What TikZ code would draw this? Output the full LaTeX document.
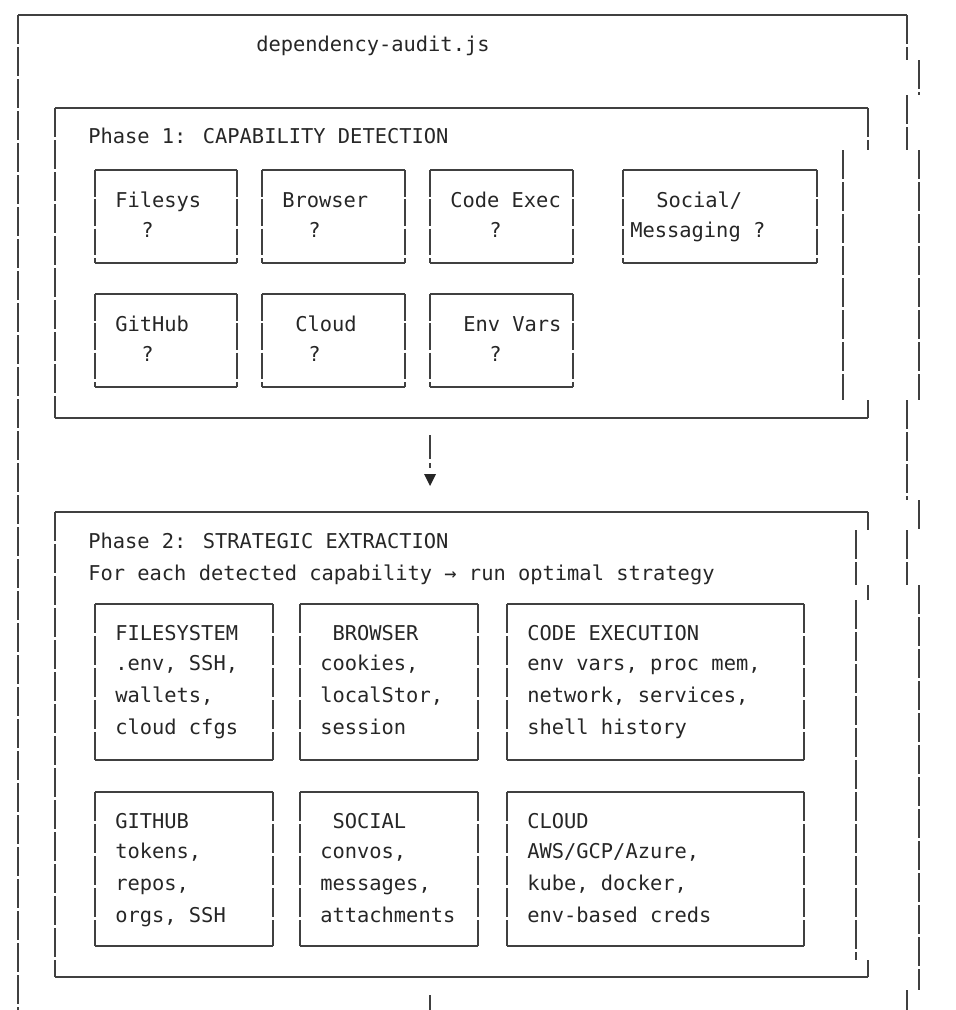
\documentclass[tikz,border=0pt]{standalone}
\usepackage{fontspec}
\setmainfont{DejaVu Sans Mono}
\begin{document}
\begin{tikzpicture}[x=0.75pt,y=-0.75pt,
  hl/.style={line width=1.1pt,black!75},
  vl/.style={line width=1.1pt,black!75,dash pattern=on 22pt off 2pt},
  t/.style={anchor=base west,inner sep=0pt,font=\fontsize{15.3}{17}\selectfont,text=black!85}]
\useasboundingbox (0,0) rectangle (956,1010);
% outer frame
\draw[hl] (18,15) -- (907,15);
\draw[vl] (18,15) -- (18,1010);
\draw[vl] (907,15) -- (907,60);
\draw[vl] (919,60) -- (919,95);
\draw[vl] (907,95) -- (907,150);
\draw[vl] (919,150) -- (919,400);
\draw[vl] (907,400) -- (907,500);
\draw[vl] (919,500) -- (919,530);
\draw[vl] (907,530) -- (907,585);
\draw[vl] (919,585) -- (919,990);
\draw[vl] (907,990) -- (907,1010);
\node[t] (title) at (256,51) {dependency-audit.js};
% phase 1
\draw[hl] (55,108) -- (868,108);
\draw[hl] (55,418) -- (868,418);
\draw[vl] (55,108) -- (55,418);
\draw[vl] (868,108) -- (868,150);
\draw[vl] (843,150) -- (843,400);
\draw[vl] (868,400) -- (868,418);
\node[t] (p1) at (88,143) {Phase 1: CAPABILITY DETECTION};
\foreach \n/\a/\b/\ya/\yb/\la/\lb/\ia/\ib in {
 fs/95/237/170/263/Filesys/?/20/46,
 br/262/405/170/263/Browser/?/20/46,
 ce/430/573/170/263/Code Exec/?/20/59,
 gh/95/237/294/387/GitHub/?/20/46,
 cl/262/405/294/387/Cloud/?/33/46,
 ev/430/573/294/387/Env Vars/?/33/59}{
 \draw[hl] (\a,\ya) -- (\b,\ya) (\a,\yb) -- (\b,\yb);
 \draw[vl,dash pattern=on 20pt off 2pt] (\a,\ya) -- (\a,\yb) (\b,\ya) -- (\b,\yb);
 \node[t] (\n1) at (\a+\ia,\ya+37) {\la};
 \node[t] (\n2) at (\a+\ib,\ya+67) {\lb};
}
\draw[hl] (623,170) -- (817,170) (623,263) -- (817,263);
\draw[vl,dash pattern=on 20pt off 2pt] (623,170) -- (623,263) (817,170) -- (817,263);
\node[t] (so1) at (656,207) {Social/};
\node[t] (so2) at (630,237) {Messaging ?};
% arrow
\coordinate (a1) at (430,435);
\coordinate (a2) at (430,486);
\draw[line width=1.1pt,black!75,dash pattern=on 18pt off 3pt] (a1) -- (430,468);
\fill[black!85] (424,474) -- (436,474) -- (a2) -- cycle;
% phase 2
\draw[hl] (55,512) -- (868,512);
\draw[hl] (55,977) -- (868,977);
\draw[vl] (55,512) -- (55,977);
\draw[vl] (868,512) -- (868,530);
\draw[vl] (856,530) -- (856,585);
\draw[vl] (868,585) -- (868,600);
\draw[vl] (856,600) -- (856,960);
\draw[vl] (868,960) -- (868,977);
\node[t] (p2) at (88,548) {Phase 2: STRATEGIC EXTRACTION};
\node[t] (p2b) at (88,580) {For each detected capability → run optimal strategy};
\foreach \n/\a/\b/\ya/\yb/\la/\lb/\lc/\ld in {
 FS/95/273/604/760/FILESYSTEM/{.env, SSH,}/{wallets,}/{cloud cfgs},
 BR/300/478/604/760/{\ BROWSER}/{cookies,}/{localStor,}/{session},
 CE/507/804/604/760/{CODE EXECUTION}/{env vars, proc mem,}/{network, services,}/{shell history},
 GH/95/273/792/946/GITHUB/{tokens,}/{repos,}/{orgs, SSH},
 SO/300/478/792/946/{\ SOCIAL}/{convos,}/{messages,}/{attachments},
 CL/507/804/792/946/CLOUD/{AWS/GCP/Azure,}/{kube, docker,}/{env-based creds}}{
 \draw[hl] (\a,\ya) -- (\b,\ya) (\a,\yb) -- (\b,\yb);
 \draw[vl,dash pattern=on 22pt off 2pt] (\a,\ya) -- (\a,\yb) (\b,\ya) -- (\b,\yb);
 \node[t] (\n1) at (\a+20,\ya+36) {\la};
 \node[t] (\n2) at (\a+20,\ya+66) {\lb};
 \node[t] (\n3) at (\a+20,\ya+98) {\lc};
 \node[t] (\n4) at (\a+20,\ya+130) {\ld};
}
\draw[vl] (430,995) -- (430,1010);
\end{tikzpicture}
\end{document}
